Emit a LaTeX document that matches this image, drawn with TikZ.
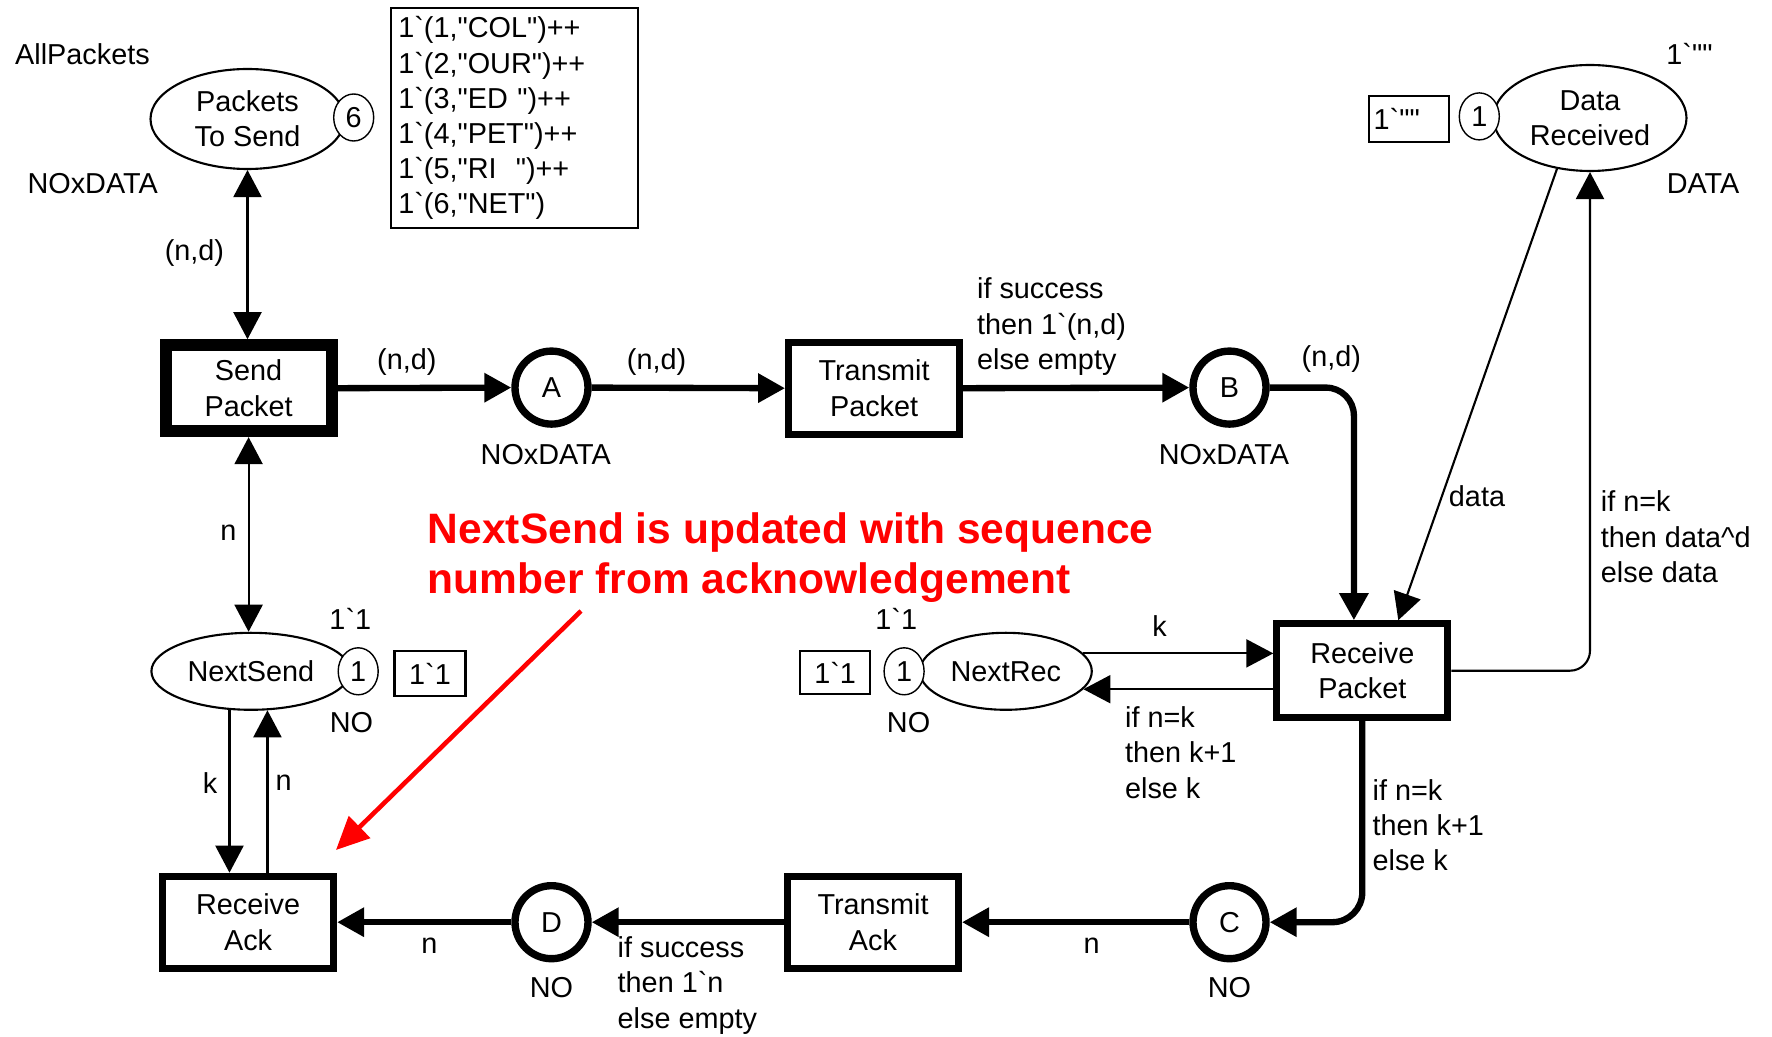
\documentclass[tikz,border=0pt]{standalone}
\usepackage{fontspec}
\setmainfont{Liberation Sans}[Ligatures=TeXOff]
\usepackage{xcolor}
\usetikzlibrary{positioning,arrows.meta,shapes.geometric}
\definecolor{notered}{HTML}{FF0000}

\begin{document}
\begin{tikzpicture}[
    every node/.style={font=\fontsize{8.2}{10}\selectfont, align=center},
    place/.style={ellipse, draw, line width=0.6pt, inner sep=0pt},
    token/.style={ellipse, draw, line width=0.4pt, fill=white, inner sep=0pt,
      minimum width=0.40cm, minimum height=0.47cm},
    initbox/.style={draw, line width=0.6pt, inner sep=0pt},
    buf/.style={circle, draw, line width=2.1pt, minimum size=0.73cm, inner sep=0pt},
    trans/.style={draw, line width=2pt, minimum width=1.71cm, minimum height=0.92cm, inner sep=0pt},
    arc/.style={-{Triangle[length=0.27cm, width=0.28cm]}, line width=0.6pt},
    twoway/.style={{Triangle[length=0.27cm, width=0.28cm]}-{Triangle[length=0.27cm, width=0.28cm]}, line width=0.6pt},
    fatarc/.style={arc, line width=1.8pt},
    lab/.style={inner sep=0pt, align=left},
    note/.style={font=\fontsize{12.1}{14.4}\selectfont\bfseries, text=notered, align=left, inner sep=0pt},
    notearrow/.style={-{Triangle[length=0.33cm, width=0.30cm]}, line width=1.3pt, notered}
  ]
  \useasboundingbox (0,0) rectangle (17.72,-10.37);

  % ---------- sender: packets, send packet, next send -------------
  \node[place, minimum width=1.94cm, minimum height=1.0cm] (toSend) at (2.475,-1.19) {Packets\\To Send};
  \node[token] (tokSend) at (3.537,-1.175) {6};
  \node[lab] (allPk) at (0.825,-0.542) {AllPackets};
  \node[lab] (typeSend) at (0.927,-1.831) {NOxDATA};
  \node[initbox, minimum height=2.204cm, text width=2.33cm, inner xsep=0.07cm, align=left]
    (initSend) at (5.148,-1.181)
    {1`(1,"COL")++\\1`(2,"OUR")++\\1`(3,"ED~")++\\1`(4,"PET")++\\1`(5,"RI~~")++\\1`(6,"NET")};

  \node[trans, line width=3.4pt, minimum width=1.66cm, minimum height=0.86cm] (sendPk) at (2.486,-3.882) {Send\\Packet};

  \node[place, minimum width=1.99cm, minimum height=0.77cm] (nextSend) at (2.509,-6.713) {NextSend};
  \node[token] (tokNS) at (3.582,-6.713) {1};
  \node[initbox, minimum width=0.71cm, minimum height=0.45cm] (initNS) at (4.30,-6.735) {1`1};
  \node[lab] (markNS) at (3.503,-6.193) {1`1};
  \node[lab] (typeNS) at (3.515,-7.221) {NO};

  % ---------- network: transmit packet / transmit ack -------------
  \node[buf] (pA) at (5.515,-3.876) {A};
  \node[lab] (typeA) at (5.458,-4.543) {NOxDATA};
  \node[trans] (transPk) at (8.741,-3.882) {Transmit\\Packet};
  \node[buf] (pB) at (12.295,-3.876) {B};
  \node[lab] (typeB) at (12.239,-4.543) {NOxDATA};

  \node[buf] (pC) at (12.295,-9.222) {C};
  \node[lab] (typeC) at (12.295,-9.877) {NO};
  \node[trans] (transAck) at (8.730,-9.222) {Transmit\\Ack};
  \node[buf] (pD) at (5.515,-9.222) {D};
  \node[lab] (typeD) at (5.515,-9.877) {NO};
  \node[trans] (recAck) at (2.481,-9.222) {Receive\\Ack};

  % ---------- receiver: data received, next rec, receive packet -------------
  \node[place, minimum width=1.93cm, minimum height=1.06cm] (dataRec) at (15.90,-1.18) {Data\\Received};
  \node[token] (tokDR) at (14.793,-1.164) {1};
  \node[initbox, text width=0.70cm, inner xsep=0.05cm, minimum height=0.46cm, align=left] (initDR) at (14.087,-1.192) {1`""};
  \node[lab] (markDR) at (16.895,-0.542) {1`""};
  \node[lab] (typeDR) at (17.031,-1.831) {DATA};

  \node[place, minimum width=1.72cm, minimum height=0.77cm] (nextRec) at (10.058,-6.713) {NextRec};
  \node[token] (tokNR) at (9.041,-6.713) {1};
  \node[initbox, minimum width=0.70cm, minimum height=0.43cm] (initNR) at (8.351,-6.724) {1`1};
  \node[lab] (markNR) at (8.962,-6.193) {1`1};
  \node[lab] (typeNR) at (9.086,-7.221) {NO};

  \node[trans, minimum height=0.94cm] (recPk) at (13.623,-6.707) {Receive\\Packet};

  % ---------- arcs -------------
  \draw[twoway] (toSend.south) -- (toSend.south |- sendPk.north);
  \draw[twoway] (sendPk.south) -- (sendPk.south |- nextSend.north);
  \draw[fatarc] (sendPk.east) -- (pA.west);
  \draw[fatarc] (pA.east) -- (transPk.west);
  \draw[fatarc] (transPk.east) -- (pB.west);
  \draw[fatarc, rounded corners=0.28cm] (pB.east) -| ([xshift=-0.084cm]recPk.north);
  \draw[arc] (dataRec.237) -- ([xshift=0.36cm]recPk.north);
  \draw[arc, rounded corners=0.2cm] (recPk.east) -| (dataRec.south);
  \draw[arc] (nextRec.13) -- (nextRec.13 -| recPk.west);
  \draw[arc] (nextRec.-13 -| recPk.west) -- (nextRec.-13);
  \draw[fatarc, rounded corners=0.3cm] (recPk.south) |- (pC.east);
  \draw[fatarc] (pC.west) -- (transAck.east);
  \draw[fatarc] (transAck.west) -- (pD.east);
  \draw[fatarc] (pD.west) -- (recAck.east);
  \draw[arc] (nextSend.241) -- (nextSend.241 |- recAck.north);
  \draw[arc] (nextSend.293 |- recAck.north) -- (nextSend.293);

  % arc inscriptions
  \node[lab] at (1.944,-2.531) {(n,d)};
  \node[lab] at (4.068,-3.616) {(n,d)};
  \node[lab] at (6.566,-3.616) {(n,d)};
  \node[lab, anchor=west] at (9.764,-3.266) {if success\\then 1`(n,d)\\else empty};
  \node[lab] at (13.313,-3.594) {(n,d)};
  \node[lab] at (14.77,-4.961) {data};
  \node[lab, anchor=west] at (16.002,-5.368) {if n=k\\then data\textasciicircum d\\else data};
  \node[lab] at (2.283,-5.323) {n};
  \node[lab] at (2.102,-7.832) {k};
  \node[lab] at (2.837,-7.832) {n};
  \node[lab] at (11.595,-6.261) {k};
  \node[lab, anchor=west] at (11.244,-7.526) {if n=k\\then k+1\\else k};
  \node[lab, anchor=west] at (13.719,-8.250) {if n=k\\then k+1\\else k};
  \node[lab] at (10.917,-9.459) {n};
  \node[lab] at (4.294,-9.459) {n};
  \node[lab, anchor=west] at (6.170,-9.855) {if success\\then 1`n\\else empty};

  % ---------- red remark -------------
  \node[note, anchor=west] (remark) at (4.272,-5.577) {NextSend is updated with sequence\\number from acknowledgement};
  \coordinate (noteFrom) at (5.81,-6.11);
  \coordinate (noteTo) at (3.36,-8.50);
  \draw[notearrow] (noteFrom) -- (noteTo);

\end{tikzpicture}
\end{document}
